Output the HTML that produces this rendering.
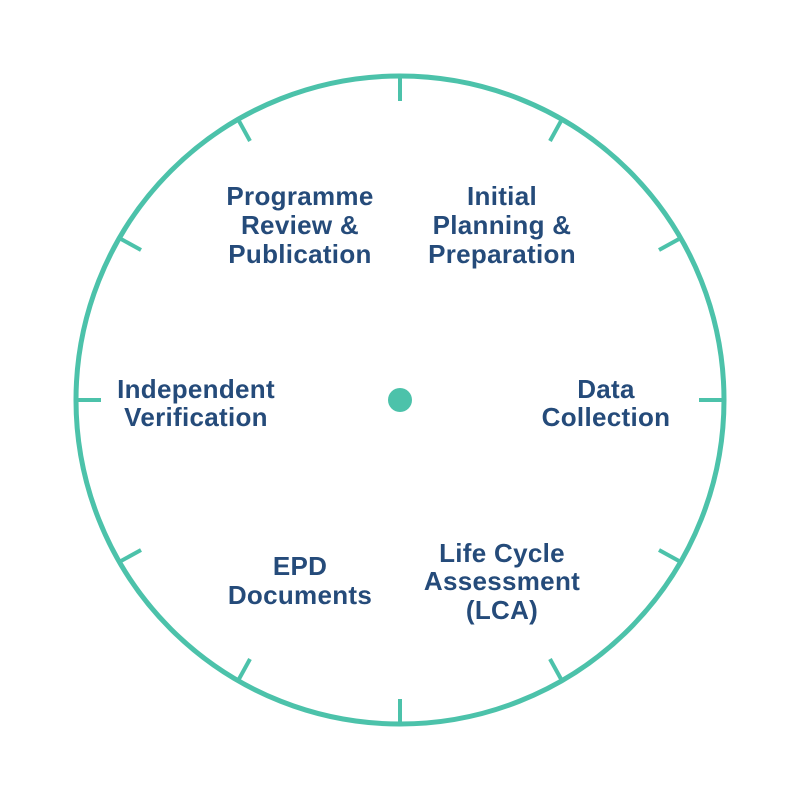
<!DOCTYPE html>
<html><head><meta charset="utf-8"><style>html,body{margin:0;padding:0;background:#fff}</style></head>
<body>
<svg width="800" height="800" viewBox="0 0 800 800" xmlns="http://www.w3.org/2000/svg">
<circle cx="400" cy="400" r="324" fill="none" stroke="#4cc2aa" stroke-width="5"/>
<g stroke="#4cc2aa" stroke-width="4">
<line x1="400" y1="78" x2="400" y2="101"/>
<line x1="400" y1="722" x2="400" y2="699"/>
<line x1="78" y1="400" x2="101" y2="400"/>
<line x1="722" y1="400" x2="699" y2="400"/>
<line x1="561" y1="121" x2="550" y2="141"/>
<line x1="679" y1="239" x2="659" y2="250"/>
<line x1="679" y1="561" x2="659" y2="550"/>
<line x1="561" y1="679" x2="550" y2="659"/>
<line x1="239" y1="679" x2="250" y2="659"/>
<line x1="121" y1="561" x2="141" y2="550"/>
<line x1="121" y1="239" x2="141" y2="250"/>
<line x1="239" y1="121" x2="250" y2="141"/>
</g>
<circle cx="400" cy="400" r="12" fill="#4cc2aa"/>
<g font-family="Liberation Sans, sans-serif" font-weight="bold" font-size="26" letter-spacing="0.3" fill="#254b7a" text-anchor="middle">
<text x="300" y="205">Programme</text>
<text x="300" y="234">Review &amp;</text>
<text x="300" y="263">Publication</text>
<text x="502" y="205">Initial</text>
<text x="502" y="234">Planning &amp;</text>
<text x="502" y="263">Preparation</text>
<text x="606" y="398">Data</text>
<text x="606" y="426">Collection</text>
<text x="196" y="398">Independent</text>
<text x="196" y="426">Verification</text>
<text x="300" y="575">EPD</text>
<text x="300" y="604">Documents</text>
<text x="502" y="562">Life Cycle</text>
<text x="502" y="590">Assessment</text>
<text x="502" y="619">(LCA)</text>
</g>
</svg>
</body></html>
